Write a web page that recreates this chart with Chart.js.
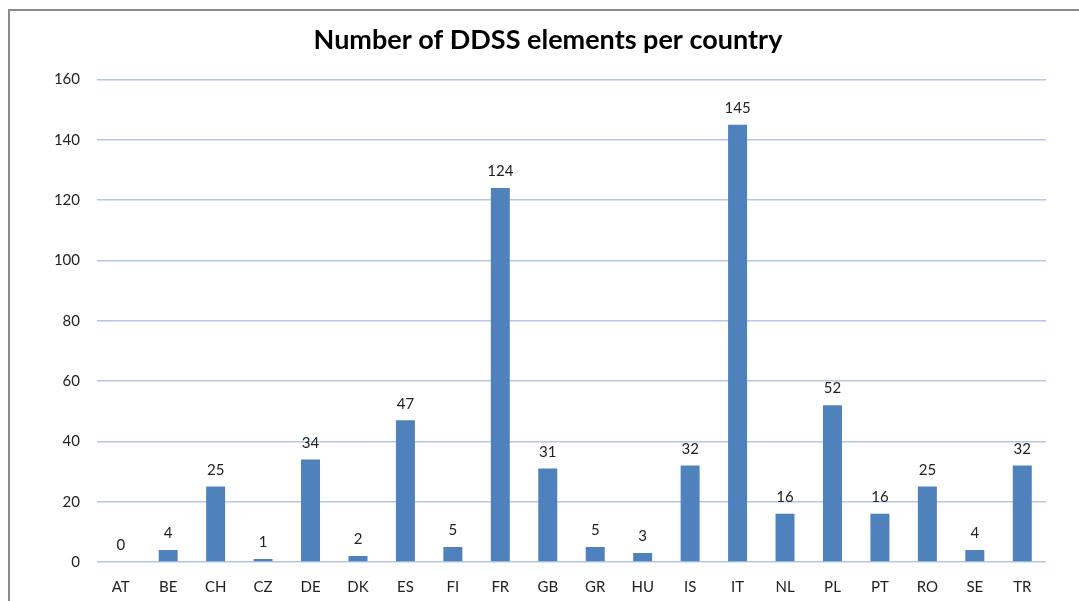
<!DOCTYPE html>
<html>
<head>
<meta charset="utf-8">
<script src="https://cdn.jsdelivr.net/npm/chart.js@4.4.1/dist/chart.umd.min.js"></script>
<style>
    body { margin: 0; background: #fff; overflow: hidden; }
    #frame { position: absolute; left: 8px; top: 9px; width: 1200px; height: 800px; border-left: 2px solid #8c8c8c; border-top: 2px solid #8c8c8c; }
    #wrap { position: absolute; left: 0; top: 0; width: 1079px; height: 601px; }
</style>
</head>
<body>
<div id="frame"></div>
<div id="wrap"><canvas id="chart" width="1079" height="601"></canvas></div>
<script>
const countries = ['AT', 'BE', 'CH', 'CZ', 'DE', 'DK', 'ES', 'FI', 'FR', 'GB', 'GR', 'HU', 'IS', 'IT', 'NL', 'PL', 'PT', 'RO', 'SE', 'TR'];
const elements = [0, 4, 25, 1, 34, 2, 47, 5, 124, 31, 5, 3, 32, 145, 16, 52, 16, 25, 4, 32];
const yMax = 160;
const yStep = 20;

const fontFamily = 'Lato, "Open Sans", sans-serif';

// draws the value above each bar
const valueLabels = {
    id: 'valueLabels',
    afterDatasetsDraw(chart) {
        const ctx = chart.ctx;
        const meta = chart.getDatasetMeta(0);
        ctx.save();
        ctx.font = '15px ' + fontFamily;
        ctx.fillStyle = '#222';
        ctx.textAlign = 'center';
        ctx.textBaseline = 'bottom';
        meta.data.forEach((bar, i) => {
            ctx.fillText(String(elements[i]), bar.x, bar.y - 9);
        });
        ctx.restore();
    }
};

new Chart(document.getElementById('chart'), {
    type: 'bar',
    data: {
        labels: countries,
        datasets: [{
            data: elements,
            backgroundColor: '#4F81BD',
            borderWidth: 0,
            barPercentage: 0.4,
            categoryPercentage: 1.0
        }]
    },
    options: {
        responsive: false,
        animation: false,
        layout: { padding: { left: 50, right: 33, top: 0, bottom: 0 } },
        plugins: {
            legend: { display: false },
            tooltip: { enabled: false },
            title: {
                display: true,
                text: 'Number of DDSS elements per country',
                color: '#000',
                font: { family: fontFamily, size: 27, weight: 'bold' },
                padding: { top: 24, bottom: 23 }
            }
        },
        scales: {
            x: {
                grid: { display: false },
                border: { display: false },
                ticks: {
                    color: '#222',
                    font: { family: fontFamily, size: 15 },
                    padding: 8,
                    maxRotation: 0
                },
                afterFit(scale) { scale.height = 39; }
            },
            y: {
                min: 0,
                max: yMax,
                grid: { color: '#B4C7E7', lineWidth: 1.5, drawTicks: false },
                border: { display: false },
                ticks: {
                    stepSize: yStep,
                    color: '#222',
                    font: { family: fontFamily, size: 15 },
                    padding: 17
                },
                afterFit(scale) { scale.width = 47; }
            }
        }
    },
    plugins: [valueLabels]
});
</script>
</body>
</html>
